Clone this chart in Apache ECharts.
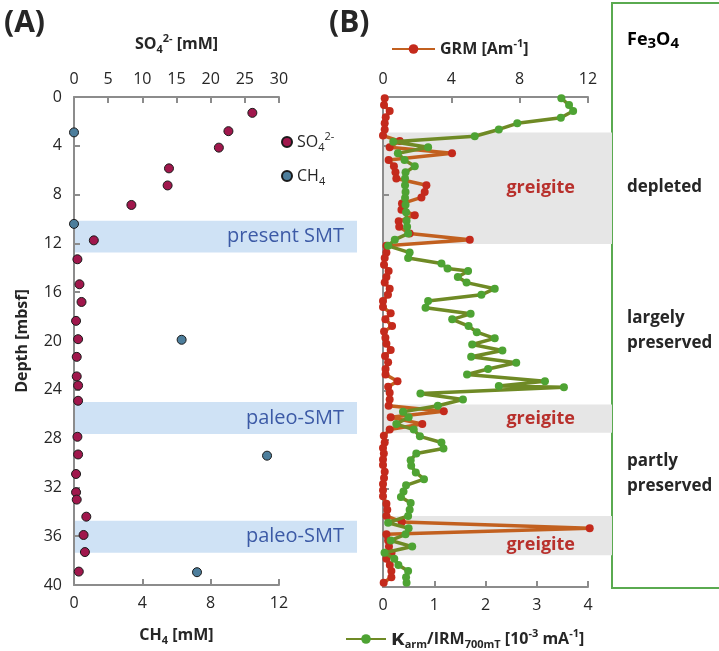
<!DOCTYPE html>
<html>
<head>
<meta charset="utf-8">
<script src="https://cdn.jsdelivr.net/npm/echarts@6/dist/echarts.min.js"></script>
<style>
html, body { margin: 0; padding: 0; background: #fff; }
#chart { width: 719px; height: 651px; }
</style>
</head>
<body>
<div id="chart"></div>
<script>
// ---- panel A: pore water ----
var depthSO4 = [1.3, 2.8, 4.15, 5.85, 7.25, 8.85, 11.75, 13.3, 15.35, 16.8, 18.35, 19.85, 21.3, 22.9, 23.65, 24.9, 27.85, 29.3, 30.9, 32.4, 33.0, 34.4, 35.9, 37.3, 38.9];
var so4 = [26.1, 22.6, 21.2, 13.9, 13.7, 8.4, 2.9, 0.5, 0.8, 1.1, 0.3, 0.6, 0.4, 0.4, 0.6, 0.6, 0.5, 0.6, 0.3, 0.3, 0.4, 1.8, 1.4, 1.6, 0.7];
var depthCH4 = [2.9, 10.4, 19.9, 29.4, 38.95];
var ch4 = [0, 0, 6.3, 11.3, 7.2];

// ---- panel B: magnetic parameters ----
var depthGrm = [0.1, 0.65, 1.15, 1.65, 2.15, 2.65, 3.15, 3.6, 4.1, 4.6, 5.15, 5.65, 6.15, 6.65, 7.2, 7.75, 8.2, 8.7, 9.2, 9.65,
  10.15, 10.6, 11.15, 11.65, 12.15, 12.7, 13.15, 13.7, 14.2, 14.7, 15.15, 15.65, 16.15, 16.65, 17.15, 17.65, 18.15, 18.7, 19.15, 19.65,
  20.15, 20.65, 21.15, 21.65, 22.2, 22.65, 23.2, 23.65, 24.15, 24.7, 25.2, 25.65, 26.15, 26.7, 27.15, 27.65, 28.2, 28.65, 29.1, 29.6,
  30.05, 30.6, 31.1, 31.6, 32.1, 32.6, 33.2, 33.7, 34.2, 34.7, 35.2, 35.7, 36.2, 36.7, 37.2, 37.7, 38.2, 38.7, 39.2, 39.65];
var grm = [0.1, 0.06, 0.39, 0.16, 0.1, 0.1, 0.0, 0.98, 0.39, 4.04, 0.33, 0.64, 0.73, 0.78, 2.54, 2.44, 2.25, 1.11, 1.08, 1.86,
  0.92, 0.95, 1.56, 5.08, 0.2, 0.2, 0.1, 0.06, 0.33, 0.2, 0.1, 0.39, 0.29, 0.0, 0.0, 0.45, 0.14, 0.53, 0.06, 0.14,
  0.2, 0.45, 0.12, 0.3, 0.15, 0.15, 0.85, 0.3, 0.39, 0.39, 0.33, 3.56, 0.45, 2.3, 0.39, 0.05, 0.1, 0.0, 0.05, 0.0,
  0.0, 0.1, 0.06, 0.0, 0.0, 0.0, 0.2, 0.25, 0.2, 1.1, 12.1, 0.2, 0.3, 0.35, 0.5, 0.2, 0.4, 0.49, 0.49, 0.04];
var depthRatio = [0.1, 0.65, 1.15, 1.7, 2.15, 2.65, 3.2, 3.65, 4.1, 4.6, 5.15, 5.65, 6.15, 6.65, 7.2, 7.75, 8.25, 8.8, 9.4, 10.1,
  10.6, 11.15, 11.65, 12.15, 12.7, 13.15, 13.6, 14.0, 14.2, 14.7, 15.15, 15.65, 16.15, 16.65, 17.2, 17.7, 18.15, 18.7, 19.2, 19.7,
  20.2, 20.7, 21.2, 21.7, 22.2, 22.65, 23.2, 23.6, 23.7, 24.2, 24.7, 25.2, 25.7, 26.15, 26.7, 27.15, 27.7, 28.2, 28.7, 29.1,
  29.65, 30.1, 30.65, 31.2, 31.7, 32.2, 32.65, 33.15, 33.7, 34.2, 34.75, 35.2, 35.7, 36.2, 36.7, 37.2, 37.7, 38.2, 38.7, 39.2, 39.65];
var ratio = [3.48, 3.63, 3.71, 3.47, 2.62, 2.26, 1.79, 0.2, 0.88, 0.29, 0.42, 0.62, 0.44, 0.43, 0.43, 0.44, 0.43, 0.44, 0.45, 0.46,
  0.47, 0.49, 0.23, 0.1, 0.52, 0.49, 1.14, 1.26, 1.66, 1.46, 1.63, 2.18, 1.92, 0.88, 0.83, 1.71, 1.35, 1.67, 1.83, 2.18,
  1.74, 2.33, 1.72, 2.6, 2.05, 1.64, 3.16, 2.26, 3.53, 0.73, 1.56, 1.07, 0.39, 0.5, 0.26, 0.6, 0.72, 1.14, 1.18, 0.65,
  0.54, 0.55, 0.64, 0.8, 0.45, 0.4, 0.35, 0.54, 0.52, 0.49, 0.1, 0.5, 0.44, 0.15, 0.57, 0.03, 0.22, 0.3, 0.49, 0.45, 0.46];

// ---- zones ----
var smtTop = [10.1, 24.9, 34.6];
var smtBottom = [12.7, 27.5, 37.2];
var smtNames = ['present SMT', 'paleo-SMT', 'paleo-SMT'];
var greigiteTop = [2.9, 25.1, 34.2];
var greigiteBottom = [12.0, 27.4, 37.4];

// ---- ticks ----
var depthTicks = {min: 0, max: 40, interval: 4};
var so4Ticks = {min: 0, max: 30, interval: 5};
var ch4Ticks = {min: 0, max: 12, interval: 4};
var grmTicks = {min: 0, max: 12, interval: 4};
var ratioTicks = {min: 0, max: 4, interval: 1};

var FONT = 'Open Sans';
var TXT = '#262626';
var AXIS = '#8c8c8c';

var rich = {
  n: {fontSize: 16, fontFamily: FONT, color: TXT, lineHeight: 22},
  ns: {fontSize: 11, fontFamily: FONT, color: TXT, lineHeight: 12, verticalAlign: 'bottom'},
  nu: {fontSize: 11, fontFamily: FONT, color: TXT, lineHeight: 12, verticalAlign: 'top'},
  b: {fontSize: 16, fontWeight: 'bold', fontFamily: FONT, color: TXT, lineHeight: 22},
  bs: {fontSize: 11, fontWeight: 'bold', fontFamily: FONT, color: TXT, lineHeight: 12, verticalAlign: 'bottom'},
  bu: {fontSize: 11, fontWeight: 'bold', fontFamily: FONT, color: TXT, lineHeight: 12, verticalAlign: 'top'},
  k: {fontSize: 22, fontWeight: 'bold', fontFamily: FONT, color: TXT, lineHeight: 22},
  fe: {fontSize: 18, fontWeight: 'bold', fontFamily: FONT, color: TXT, lineHeight: 22},
  fes: {fontSize: 15, fontWeight: 'bold', fontFamily: FONT, color: TXT, lineHeight: 16, verticalAlign: 'bottom'}
};

function pairs(xs, ys) {
  return xs.map(function (v, i) { return [v, ys[i]]; });
}

function valueAxis(grid, pos, ticks, extra) {
  var ax = {
    gridIndex: grid, type: 'value', position: pos,
    min: ticks.min, max: ticks.max, interval: ticks.interval,
    axisLine: {show: true, onZero: false, lineStyle: {color: AXIS, width: 2}},
    axisTick: {show: true, inside: true, length: 6, lineStyle: {color: AXIS, width: 2}},
    axisLabel: {fontSize: 16, fontFamily: FONT, color: TXT, margin: 10},
    splitLine: {show: false},
    z: 1
  };
  return Object.assign(ax, extra || {});
}

function hiddenAxis(grid, isY) {
  var ax = {gridIndex: grid, type: 'value', show: false, min: 0, max: isY ? 40 : 1};
  if (isY) ax.inverse = true;
  return ax;
}

var smtAreas = smtTop.map(function (t, i) {
  return [{name: smtNames[i], yAxis: t}, {yAxis: smtBottom[i]}];
});
var greigiteAreas = greigiteTop.map(function (t, i) {
  var first = {name: 'greigite', yAxis: t};
  if (i === 2) first.label = {offset: [0, 9]};
  return [first, {yAxis: greigiteBottom[i]}];
});

var chart = echarts.init(document.getElementById('chart'));

var option = {
  animation: false,
  backgroundColor: '#fff',
  grid: [
    {left: 74, top: 97, width: 205, height: 490},
    {left: 383, top: 97, width: 205, height: 490},
    {left: 74, top: 97, width: 283, height: 490},
    {left: 383, top: 97, width: 229, height: 490}
  ],
  xAxis: [
    valueAxis(0, 'top', so4Ticks, {
      name: '{b|SO}{bs|4}{bu|2-}{b| [mM]}', nameLocation: 'middle', nameGap: 42,
      nameTextStyle: {rich: rich}
    }),
    valueAxis(0, 'bottom', ch4Ticks, {
      name: '{b|CH}{bs|4}{b| [mM]}', nameLocation: 'middle', nameGap: 39,
      nameTextStyle: {rich: rich}
    }),
    valueAxis(1, 'top', grmTicks),
    valueAxis(1, 'bottom', ratioTicks),
    hiddenAxis(2, false),
    hiddenAxis(3, false)
  ],
  yAxis: [
    valueAxis(0, 'left', depthTicks, {
      inverse: true, axisLabel: {fontSize: 16, fontFamily: FONT, color: TXT, margin: 12},
      name: 'Depth [mbsf]', nameLocation: 'middle', nameGap: 44, nameRotate: 90,
      nameTextStyle: {fontSize: 16, fontWeight: 'bold', fontFamily: FONT, color: TXT}
    }),
    valueAxis(1, 'left', depthTicks, {inverse: true, axisLabel: {show: false}}),
    hiddenAxis(2, true),
    hiddenAxis(3, true)
  ],
  legend: [
    {
      orient: 'vertical', left: 276, top: 126, itemWidth: 10, itemHeight: 10, itemGap: 15,
      data: ['SO4', 'CH4'],
      formatter: function (n) { return n === 'SO4' ? '{n|SO}{ns|4}{nu|2-}' : '{n|CH}{ns|4}'; },
      textStyle: {rich: rich}
    },
    {
      left: 386, top: 33, itemWidth: 43, itemHeight: 12,
      data: ['GRM'],
      formatter: function () { return '{b|GRM [Am}{bu|-1}{b|]}'; },
      textStyle: {rich: rich}
    },
    {
      left: 340, top: 623, itemWidth: 40, itemHeight: 12,
      data: ['ratio'],
      formatter: function () {
        return '{k|κ}{bs|arm}{b|/IRM}{bs|700mT}{b| [10}{bu|-3}{b| mA}{bu|-1}{b|]}';
      },
      textStyle: {rich: rich}
    }
  ],
  series: [
    {
      type: 'scatter', xAxisIndex: 4, yAxisIndex: 2, data: [], z: 0, silent: true,
      markArea: {
        silent: true,
        itemStyle: {color: '#cfe2f5'},
        label: {show: true, position: 'insideRight', distance: 13, color: '#3c5aa6',
          fontSize: 20, fontFamily: FONT},
        data: smtAreas
      }
    },
    {
      type: 'scatter', xAxisIndex: 5, yAxisIndex: 3, data: [], z: 0, silent: true,
      markArea: {
        silent: true,
        itemStyle: {color: '#e6e6e6'},
        label: {show: true, position: 'insideRight', distance: 37, color: '#b8302c',
          fontSize: 18, fontWeight: 'bold', fontFamily: FONT},
        data: greigiteAreas
      }
    },
    {
      name: 'SO4', type: 'scatter', xAxisIndex: 0, yAxisIndex: 0, z: 2,
      symbolSize: 9, clip: false,
      itemStyle: {color: '#a0174c', borderColor: '#1a1a1a', borderWidth: 1, opacity: 1},
      data: pairs(so4, depthSO4)
    },
    {
      name: 'CH4', type: 'scatter', xAxisIndex: 1, yAxisIndex: 0, z: 2,
      symbolSize: 9, clip: false,
      itemStyle: {color: '#4d7e9c', borderColor: '#1a1a1a', borderWidth: 1, opacity: 1},
      data: pairs(ch4, depthCH4)
    },
    {
      name: 'GRM', type: 'line', xAxisIndex: 2, yAxisIndex: 1, z: 2,
      symbol: 'circle', symbolSize: 8, showAllSymbol: true, clip: false,
      itemStyle: {color: '#c42a1c'},
      lineStyle: {color: '#c2601f', width: 3.5},
      data: pairs(grm, depthGrm)
    },
    {
      name: 'ratio', type: 'line', xAxisIndex: 3, yAxisIndex: 1, z: 3,
      symbol: 'circle', symbolSize: 8, showAllSymbol: true, clip: false,
      itemStyle: {color: '#4ea333'},
      lineStyle: {color: '#6f8a25', width: 3.5},
      data: pairs(ratio, depthRatio)
    }
  ],
  graphic: [
    {type: 'text', left: 4, top: 8, style: {text: '(A)', font: 'bold 30px "Open Sans"', fill: TXT}},
    {type: 'text', left: 329, top: 8, style: {text: '(B)', font: 'bold 30px "Open Sans"', fill: TXT}},
    {type: 'rect', shape: {x: 612, y: 3, width: 140, height: 585},
      style: {fill: 'none', stroke: '#5aaa50', lineWidth: 2}},
    {type: 'text', x: 627, y: 40, style: {text: '{fe|Fe}{fes|3}{fe|O}{fes|4}', rich: rich, verticalAlign: 'middle'}},
    {type: 'text', x: 627, y: 187, style: {text: 'depleted', font: 'bold 17px "Open Sans"', fill: TXT, verticalAlign: 'middle'}},
    {type: 'text', x: 627, y: 318, style: {text: 'largely', font: 'bold 17px "Open Sans"', fill: TXT, verticalAlign: 'middle'}},
    {type: 'text', x: 627, y: 343, style: {text: 'preserved', font: 'bold 17px "Open Sans"', fill: TXT, verticalAlign: 'middle'}},
    {type: 'text', x: 627, y: 461, style: {text: 'partly', font: 'bold 17px "Open Sans"', fill: TXT, verticalAlign: 'middle'}},
    {type: 'text', x: 627, y: 486, style: {text: 'preserved', font: 'bold 17px "Open Sans"', fill: TXT, verticalAlign: 'middle'}}
  ]
};

chart.setOption(option);
</script>
</body>
</html>
